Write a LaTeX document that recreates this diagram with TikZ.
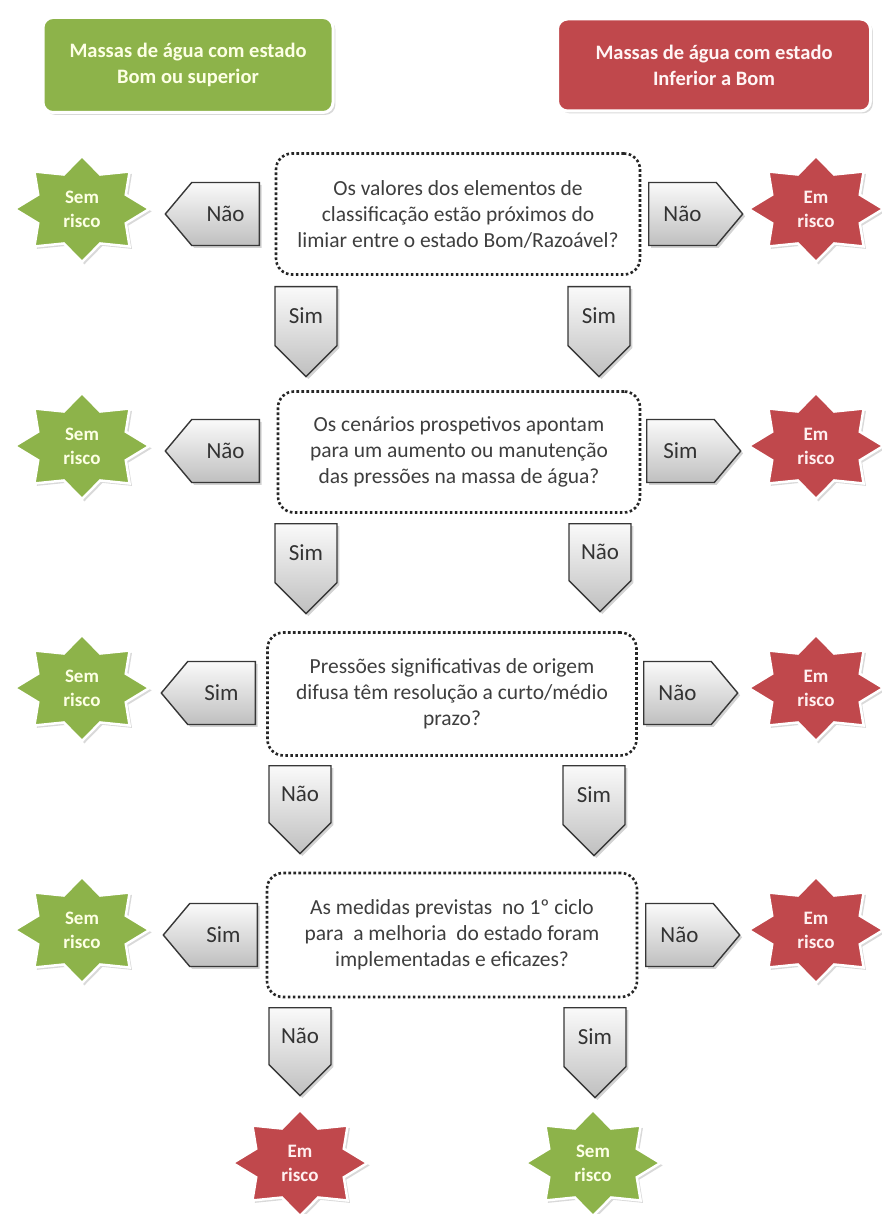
\documentclass[tikz,border=0pt]{standalone}
\usepackage{fontspec}
\setmainfont{Carlito}
\usetikzlibrary{shapes.geometric,shapes.symbols,shadows}
\definecolor{okgreen}{RGB}{141,179,74}
\definecolor{riskred}{RGB}{192,72,76}
\definecolor{qtext}{RGB}{62,62,62}
\definecolor{arrowline}{RGB}{55,55,55}
\begin{document}
\begin{tikzpicture}[x=1pt,y=-1pt,
    header/.style={draw=white, line width=3pt, rounded corners=10pt, align=center,
      font=\fontsize{20.5}{26}\selectfont\bfseries, drop shadow={opacity=0.3}},
    question/.style={draw=black!85, line width=2.6pt, dash pattern=on 2.6pt off 2.4pt,
      rounded corners=16pt, fill=white, align=center, text=qtext, inner sep=0pt,
      font=\fontsize{21.5}{26}\selectfont},
    answer/.style={signal, draw=arrowline, line width=1.4pt, inner sep=0pt,
      top color=gray!4, bottom color=gray!50, text=black!80,
      font=\fontsize{23}{24}\selectfont, drop shadow={opacity=0.35}},
    toleft/.style={answer, signal to=west, signal pointer angle=100, anchor=east,
      minimum width=94pt, minimum height=63pt},
    toright/.style={answer, signal to=east, signal pointer angle=100, anchor=west,
      minimum width=94pt, minimum height=63pt},
    todown/.style={answer, signal to=south, signal pointer angle=90, anchor=north,
      minimum width=62pt, minimum height=76pt},
    riskstar/.style={star, star points=8, star point ratio=1.42, draw=white,
      line width=2.5pt, minimum size=106pt, inner sep=0pt, xscale=1.27,
      drop shadow={opacity=0.3}},
    safe/.style={riskstar, fill=okgreen},
    danger/.style={riskstar, fill=riskred},
    starlabel/.style={align=center, font=\fontsize{19}{24}\selectfont\bfseries},
    safelabel/.style={starlabel, text=green!8!yellow!10},
    dangerlabel/.style={starlabel, text=red!6}
  ]
  \useasboundingbox (0,0) rectangle (881,1214);

  % headers
  \node[header, fill=okgreen, text=green!8!yellow!10, minimum width=290pt, minimum height=95pt]
    (hgood) at (188,65) {Massas de água com estado\\Bom ou superior};
  \node[header, fill=riskred, text=red!4, minimum width=313pt, minimum height=92pt]
    (hbad) at (714,65) {Massas de água com estado\\Inferior a Bom};

  % questions
  \node[question, minimum width=364pt, minimum height=121pt] (q1) at (458,214)
    {Os valores dos elementos de\\classificação estão próximos do\\limiar entre o estado Bom/Razoável?};
  \node[question, minimum width=362pt, minimum height=121pt] (q2) at (459,452)
    {Os cenários prospetivos apontam\\para um aumento ou manutenção\\das pressões na massa de água?};
  \node[question, minimum width=369pt, minimum height=123pt] (q3) at (452,694)
    {Pressões significativas de origem\\difusa têm resolução a curto/médio\\prazo?};
  \node[question, minimum width=370pt, minimum height=124pt] (q4) at (452,935)
    {As medidas previstas \ no 1º ciclo\\para \ a melhoria \ do estado foram\\implementadas e eficazes?};

  % side answers
  \node[toleft]  (a1l) at (260,214) {Não};
  \node[toright] (a1r) at (648,214) {Não};
  \node[toleft]  (a2l) at (260,451) {Não};
  \node[toright] (a2r) at (646,451) {Sim};
  \node[toleft]  (a3l) at (256,693) {Sim};
  \node[toright] (a3r) at (643,693) {Não};
  \node[toleft]  (a4l) at (258,935) {Sim};
  \node[toright] (a4r) at (645,935) {Não};

  % down answers
  \node[todown] (d1l) at (306,286) {Sim};
  \node[todown] (d1r) at (599,286) {Sim};
  \node[todown] (d2l) at (306,523) {Sim};
  \node[todown] (d2r) at (600,523) {Não};
  \node[todown] (d3l) at (300,765) {Não};
  \node[todown] (d3r) at (594,765) {Sim};
  \node[todown] (d4l) at (300,1007) {Não};
  \node[todown] (d4r) at (595,1007) {Sim};

  % outcomes
  \foreach \row/\y in {1/209,2/446,3/688,4/930}{
    \node[safe]   (s\row l) at (82,\y) {};
    \node[safelabel] (t\row l) at (s\row l) {Sem\\risco};
    \node[danger] (s\row r) at (816,\y) {};
    \node[dangerlabel] (t\row r) at (s\row r) {Em\\risco};
  }
  \node[danger] (send) at (300,1163) {};
  \node[dangerlabel] (tend) at (send) {Em\\risco};
  \node[safe] (sok) at (593,1163) {};
  \node[safelabel] (tok) at (sok) {Sem\\risco};
\end{tikzpicture}
\end{document}
